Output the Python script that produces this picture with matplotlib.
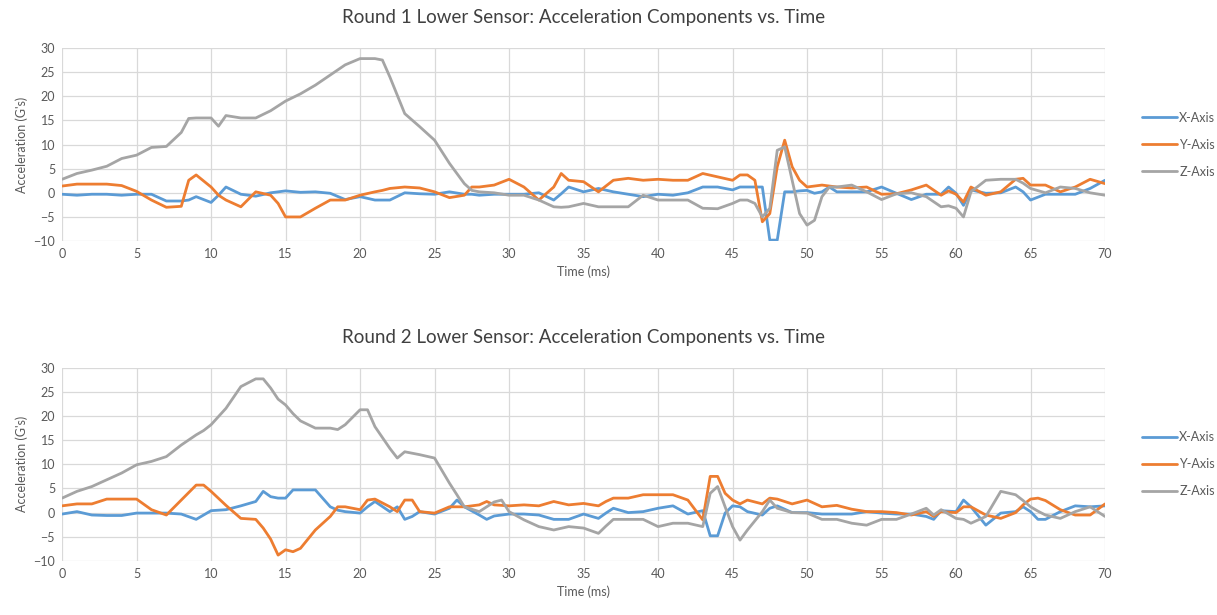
import matplotlib
matplotlib.use("Agg")
import matplotlib.pyplot as plt

# ------------------------------------------------------------------
# Data (time in ms, acceleration in G's)
# ------------------------------------------------------------------
t_round1 = [0, 1, 2, 3, 4, 5, 6, 7, 8, 8.5, 9, 10, 10.5, 11, 12, 13, 14, 14.5,
            15, 16, 17, 18, 19, 20, 21, 21.5, 22, 23, 24, 25, 26, 27, 27.5, 28,
            29, 30, 31, 32, 33, 33.5, 34, 35, 36, 37, 38, 39, 40, 41, 42, 43,
            44, 45, 45.5, 46, 46.5, 47, 47.5, 48, 48.5, 49, 49.5, 50, 50.5, 51,
            51.5, 52, 53, 54, 55, 56, 57, 58, 59, 59.5, 60, 60.5, 61, 62, 63,
            64, 64.5, 65, 66, 67, 68, 69, 70]

x_round1 = [-0.3, -0.5, -0.3, -0.3, -0.5, -0.3, -0.3, -1.7, -1.7, -1.5, -0.8,
            -2.0, -0.5, 1.2, -0.3, -0.7, 0.0, 0.2, 0.4, 0.1, 0.2, -0.1, -1.4,
            -0.8, -1.5, -1.5, -1.5, 0.0, -0.2, -0.3, 0.2, -0.3, -0.3, -0.5,
            -0.3, -0.3, -0.3, 0.0, -1.5, -0.2, 1.2, 0.2, 0.9, 0.2, -0.3, -0.8,
            -0.3, -0.5, 0.0, 1.2, 1.2, 0.6, 1.2, 1.2, 1.2, 1.2, -9.8, -9.8,
            0.2, 0.2, 0.4, 0.5, -0.1, 0.2, 1.2, 0.2, 0.2, 0.2, 1.2, -0.1, -1.4,
            -0.3, -0.3, 1.2, -0.1, -2.6, 0.6, -0.1, 0.0, 1.2, 0.2, -1.5, -0.3,
            -0.3, -0.3, 0.9, 2.6]

y_round1 = [1.4, 1.8, 1.8, 1.8, 1.5, 0.3, -1.5, -3.0, -2.8, 2.6, 3.7, 1.2,
            -0.5, -1.5, -2.9, 0.2, -0.5, -2.2, -5.0, -5.0, -3.2, -1.5, -1.5,
            -0.5, 0.2, 0.5, 0.9, 1.2, 1.0, 0.2, -1.0, -0.5, 1.2, 1.2, 1.6, 2.8,
            1.2, -1.5, 1.2, 4.0, 2.6, 2.3, 0.2, 2.6, 3.0, 2.6, 2.8, 2.6, 2.6,
            4.0, 3.3, 2.6, 3.7, 3.7, 2.6, -6.0, -4.3, 5.4, 10.9, 5.4, 2.6, 1.2,
            1.4, 1.6, 1.4, 1.2, 1.0, 1.2, -0.3, -0.2, 0.6, 1.6, -0.5, 0.4, -0.3,
            -1.9, 1.2, -0.5, 0.2, 2.8, 3.0, 1.6, 1.6, 0.2, 1.2, 2.8, 1.9]

z_round1 = [2.8, 4.0, 4.7, 5.5, 7.1, 7.8, 9.4, 9.6, 12.5, 15.4, 15.5, 15.5,
            13.8, 16.0, 15.5, 15.5, 17.0, 18.0, 19.0, 20.5, 22.3, 24.4, 26.5,
            27.8, 27.8, 27.5, 24.0, 16.4, 13.7, 10.9, 6.1, 1.9, 0.5, 0.2, 0.0,
            -0.5, -0.5, -1.5, -2.9, -3.0, -2.9, -2.2, -2.9, -2.9, -2.9, -0.5,
            -1.5, -1.5, -1.5, -3.2, -3.3, -2.2, -1.5, -1.5, -2.2, -5.0, -3.2,
            8.8, 9.5, 2.6, -4.3, -6.7, -5.7, -0.8, 1.2, 1.2, 1.6, 0.2, -1.4,
            -0.2, 0.0, -0.8, -2.9, -2.7, -3.2, -5.0, 0.2, 2.6, 2.8, 2.8, 2.0,
            0.9, 0.0, 1.2, 0.9, 0.0, -0.5]

t_round2 = [0, 1, 2, 3, 4, 5, 6, 7, 8, 9, 9.5, 10, 11, 12, 13, 13.5, 14, 14.5,
            15, 15.5, 16, 17, 18, 18.5, 19, 20, 20.5, 21, 22, 22.5, 23, 23.5,
            24, 25, 26, 26.5, 27, 28, 28.5, 29, 29.5, 30, 31, 32, 33, 34, 35,
            36, 36.5, 37, 38, 39, 40, 41, 42, 43, 43.5, 44, 44.5, 45, 45.5, 46,
            47, 47.5, 48, 49, 50, 51, 52, 53, 54, 55, 56, 57, 58, 58.5, 59, 60,
            60.5, 61, 62, 63, 64, 64.5, 65, 65.5, 66, 67, 68, 69, 70]

x_round2 = [-0.3, 0.2, -0.5, -0.6, -0.6, -0.1, -0.1, -0.1, -0.3, -1.4, -0.5,
            0.4, 0.6, 1.4, 2.3, 4.4, 3.3, 3.0, 3.0, 4.7, 4.7, 4.7, 1.2, 0.5,
            0.2, -0.1, 1.2, 2.3, 0.2, 1.2, -1.4, -0.8, 0.2, -0.3, 0.9, 2.6,
            1.2, -0.5, -1.4, -0.7, -0.5, -0.3, -0.3, -0.5, -1.4, -1.4, -0.3,
            -1.2, -0.1, 0.9, 0.0, 0.2, 0.9, 1.4, -0.3, 0.4, -4.8, -4.8, -0.1,
            1.4, 1.2, 0.2, -0.5, 0.9, 1.4, 0.0, 0.0, -0.3, -0.3, -0.3, 0.2,
            -0.1, -0.3, -0.3, -0.8, -1.4, 0.4, 0.2, 2.6, 1.2, -2.6, -0.1, 0.2,
            1.2, 0.2, -1.4, -1.4, 0.2, 1.4, 1.2, 1.4]

y_round2 = [1.4, 1.8, 1.8, 2.8, 2.8, 2.8, 0.6, -0.5, 2.6, 5.7, 5.7, 4.4, 1.5,
            -1.2, -1.4, -3.2, -5.5, -8.8, -7.7, -8.1, -7.4, -3.6, -0.8, 1.2,
            1.2, 0.6, 2.6, 2.8, 1.2, 0.2, 2.6, 2.6, 0.2, -0.1, 1.2, 1.2, 1.2,
            1.6, 2.3, 1.6, 1.5, 1.4, 1.6, 1.4, 2.3, 1.6, 1.9, 1.4, 2.3, 3.0,
            3.0, 3.7, 3.7, 3.7, 2.6, -1.5, 7.5, 7.5, 4.0, 2.6, 1.8, 2.6, 1.8,
            3.0, 2.8, 1.8, 2.6, 1.2, 1.5, 0.7, 0.2, 0.2, 0.0, -0.5, 0.2, -0.8,
            0.2, 0.0, 1.2, 1.2, -0.5, -1.2, 0.0, 1.6, 2.8, 3.0, 2.5, 0.6, -0.5,
            -0.5, 1.8]

z_round2 = [3.0, 4.4, 5.4, 6.8, 8.2, 9.9, 10.6, 11.6, 14.0, 16.1, 17.0, 18.2,
            21.6, 26.1, 27.7, 27.7, 25.8, 23.5, 22.3, 20.5, 19.0, 17.5, 17.5,
            17.2, 18.2, 21.3, 21.3, 17.8, 13.3, 11.3, 12.6, 12.3, 12.0, 11.3,
            6.1, 3.7, 1.2, 0.2, 1.2, 2.2, 2.6, 0.2, -1.5, -2.9, -3.6, -2.9,
            -3.2, -4.3, -2.8, -1.4, -1.4, -1.4, -2.9, -2.2, -2.2, -2.9, 4.0,
            5.4, 1.2, -2.9, -5.7, -3.6, 0.2, 2.6, 0.9, 0.0, -0.1, -1.4, -1.4,
            -2.2, -2.6, -1.4, -1.4, -0.3, 0.9, -0.5, 0.6, -1.2, -1.4, -2.2,
            -0.8, 4.4, 3.7, 2.5, 1.2, 0.3, -0.5, -1.2, 0.2, 1.2, -0.8]

series_labels = ["X-Axis", "Y-Axis", "Z-Axis"]
series_colors = ["#5B9BD5", "#ED7D31", "#A5A5A5"]
titles = ["Round 1 Lower Sensor: Acceleration Components vs. Time",
          "Round 2 Lower Sensor: Acceleration Components vs. Time"]

plt.rcParams["font.family"] = ["Lato", "DejaVu Sans"]
TXT = "#595959"

fig = plt.figure(figsize=(12.17, 6.15), dpi=100)

panels = [
    (t_round1, [x_round1, y_round1, z_round1], 0.608),
    (t_round2, [x_round2, y_round2, z_round2], 0.088),
]

for (t, ys, bottom), title in zip(panels, titles):
    ax = fig.add_axes([0.051, bottom, 0.857, 0.314])
    for vals, lab, col in zip(ys, series_labels, series_colors):
        ax.plot(t, vals, color=col, lw=2.0, label=lab,
                solid_joinstyle="round", solid_capstyle="round", zorder=3)
    ax.set_xlim(0, 70)
    ax.set_ylim(-10, 30)
    ax.set_xticks(range(0, 71, 5))
    ax.set_yticks(range(-10, 31, 5))
    ax.grid(True, color="#D9D9D9", lw=0.9)
    ax.set_axisbelow(True)
    for s in ax.spines.values():
        s.set_visible(False)
    ax.tick_params(length=0, labelsize=9, colors=TXT, pad=5)
    ax.set_xlabel("Time (ms)", fontsize=9, color=TXT, labelpad=4)
    ax.set_ylabel("Acceleration (G's)", fontsize=9, color=TXT, labelpad=4)
    ax.set_title(title, fontsize=13.5, color="#404040", pad=18)
    ax.legend(loc="center left", bbox_to_anchor=(1.025, 0.5), frameon=False,
              fontsize=9, labelcolor=TXT, handlelength=2.8,
              handletextpad=0.15, labelspacing=1.2)

fig.savefig("out.png", dpi=100, facecolor="white")
